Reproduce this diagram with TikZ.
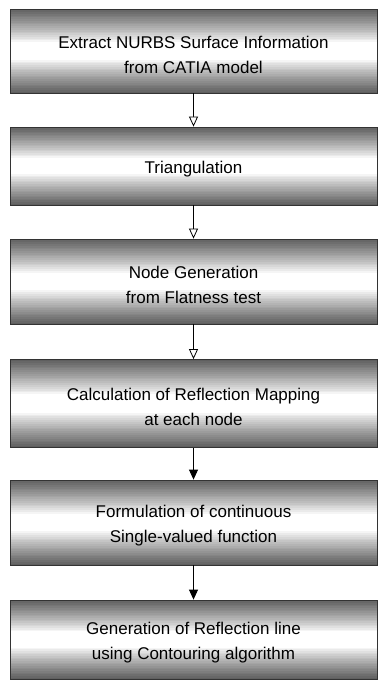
\documentclass[tikz,border=0pt]{standalone}
\usepackage{fontspec}
\setmainfont{Liberation Sans}
\usetikzlibrary{arrows.meta,calc,backgrounds}
\newcommand\gradfill[1]{%
  \foreach \i in {0,...,47}{%
    \pgfmathsetmacro\gfT{(\i+0.5)/48}%
    \pgfmathsetmacro\gfD{64*max(0,(abs(\gfT-0.5)-0.1)/0.4)^0.85}%
    \fill[black!\gfD] let \p1=(#1.north west), \p2=(#1.south east) in
      (\x1,{\y1+(\y2-\y1)*\i/48}) rectangle (\x2,{\y1+(\y2-\y1)*(\i+1)/48-0.3pt});
  }}
\tikzset{
  stepbox/.style={draw=black!80, line width=0.8bp, minimum width=367bp, inner sep=0pt},
  steptext/.style={align=center, yshift=-3.5bp, font=\fontsize{17bp}{25bp}\selectfont},
  openarrow/.style={draw=black, line width=0.8bp, -{Triangle[open, length=10bp, width=9bp, fill=white]}},
  fullarrow/.style={draw=black, line width=0.8bp, -{Triangle[length=10bp, width=9bp]}}
}
\begin{document}
\begin{tikzpicture}[x=1bp, y=-1bp]
\useasboundingbox (0,0) rectangle (380,681);
\node[stepbox, minimum height=84bp] (b1) at (193.5,51) {};
\node[stepbox, minimum height=78bp] (b2) at (193.5,166) {};
\node[stepbox, minimum height=85bp] (b3) at (193.5,281.5) {};
\node[stepbox, minimum height=88bp] (b4) at (193.5,403.5) {};
\node[stepbox, minimum height=85bp] (b5) at (193.5,522.5) {};
\node[stepbox, minimum height=79bp] (b6) at (193.5,639.5) {};
\begin{scope}[on background layer]
  \gradfill{b1}\gradfill{b2}\gradfill{b3}\gradfill{b4}\gradfill{b5}\gradfill{b6}
\end{scope}
\node[steptext] (t1) at (b1.center) {Extract NURBS Surface Information\\from CATIA model};
\node[steptext] (t2) at (b2.center) {Triangulation};
\node[steptext] (t3) at (b3.center) {Node Generation\\from Flatness test};
\node[steptext] (t4) at (b4.center) {Calculation of Reflection Mapping\\at each node};
\node[steptext] (t5) at (b5.center) {Formulation of continuous\\Single-valued function};
\node[steptext] (t6) at (b6.center) {Generation of Reflection line\\using Contouring algorithm};
\draw[openarrow] (b1.south) -- (b2.north);
\draw[openarrow] (b2.south) -- (b3.north);
\draw[openarrow] (b3.south) -- (b4.north);
\draw[fullarrow] (b4.south) -- (b5.north);
\draw[fullarrow] (b5.south) -- (b6.north);
\end{tikzpicture}
\end{document}
